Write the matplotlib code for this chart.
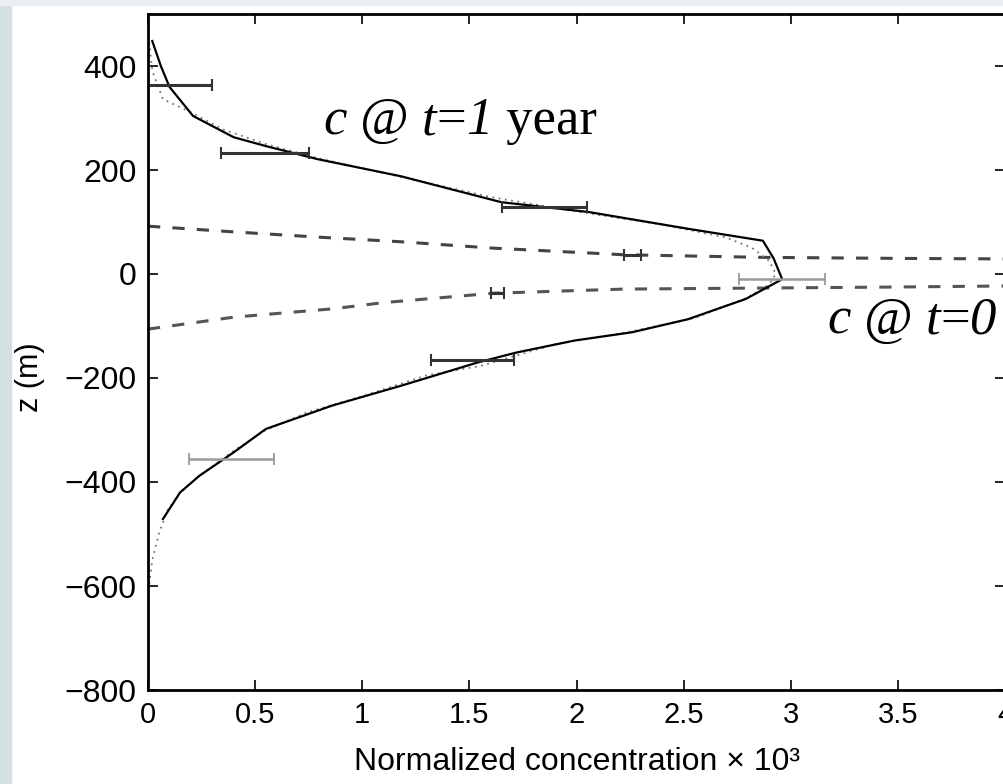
import numpy as np
import matplotlib.pyplot as plt
from matplotlib.patches import Rectangle
from matplotlib.ticker import MultipleLocator, FormatStrFormatter

plt.rcParams['font.family'] = ['Liberation Sans', 'DejaVu Sans']

# simulated profile at t = 1 year (solid)
c_sim = [0.02, 0.06, 0.10, 0.21, 0.40, 0.55, 0.79, 1.18, 1.65, 2.06, 2.52, 2.87,
         2.92, 2.96, 2.79, 2.52, 2.26, 1.99, 1.72, 1.54, 1.18, 0.86, 0.55, 0.40,
         0.24, 0.15, 0.07]
z_sim = [448, 400, 360, 304, 263, 246, 221, 188, 138, 119, 87, 64,
         30, -10, -48, -87, -112, -128, -151, -170, -215, -253, -298, -343,
         -388, -420, -471]

# analytical profile (dotted)
c_ana = [0.0, 0.01, 0.02, 0.07, 0.20, 0.35, 0.55, 0.80, 1.20, 1.60, 2.00, 2.40,
         2.70, 2.82, 2.90, 2.93, 2.90, 2.80, 2.55, 2.20, 1.90, 1.55, 1.30, 1.00,
         0.75, 0.55, 0.40, 0.25, 0.15, 0.09, 0.05, 0.02, 0.005, 0.0]
z_ana = [470, 430, 390, 336, 311, 278, 250, 222, 185, 148, 120, 95,
         70, 50, 25, 0, -20, -45, -85, -115, -135, -177, -195, -235,
         -265, -300, -340, -385, -420, -455, -500, -550, -600, -640]

# dashed lines (c @ t=0 envelope)
c_up = [0.0, 0.40, 0.79, 1.18, 1.60, 2.22, 2.87, 3.50, 4.0]
z_up = [92, 81, 71, 62, 50, 37, 32, 30, 29]
c_lo = [0.0, 0.40, 0.86, 1.10, 1.61, 2.22, 2.87, 3.50, 4.0]
z_lo = [-106, -83, -67, -55, -37, -29, -27, -25, -23]

# horizontal error bars: centre, half width, depth
eb_dark_c = [0.15, 0.545, 1.85, 2.26, 1.63, 1.515]
eb_dark_w = [0.15, 0.205, 0.20, 0.04, 0.03, 0.195]
eb_dark_z = [363, 232, 129, 37, -37, -165]
eb_light_c = [2.96, 0.39]
eb_light_w = [0.20, 0.20]
eb_light_z = [-10, -356]

label_t1 = [('c', 'italic'), (' @ ', 'normal'), ('t', 'italic'), ('=', 'normal'),
            ('1', 'italic'), (' year', 'normal')]
label_t0 = [('c', 'italic'), (' @ ', 'normal'), ('t', 'italic'), ('=', 'normal'),
            ('0', 'italic')]

fig = plt.figure(figsize=(10.04, 7.84), dpi=100)
fig.patch.set_facecolor('white')
fig.patches.append(Rectangle((0, 0), 11/1004, 1, transform=fig.transFigure,
                             color='#d5e0e5', zorder=-5))
fig.patches.append(Rectangle((0, 1 - 5/784), 1, 5/784, transform=fig.transFigure,
                             color='#ebeff2', zorder=-5))

ax = fig.add_axes([148/1004, 1 - 690/784, (1005 - 148)/1004, (690 - 14)/784])

ax.plot(c_up, z_up, color='#444444', lw=2.2, ls=(0, (4, 4)))
ax.plot(c_lo, z_lo, color='#555555', lw=2.2, ls=(0, (4, 4)))
ax.plot(c_ana, z_ana, color='#777777', lw=1.3, ls=(0, (1, 2.5)))
ax.plot(c_sim, z_sim, color='black', lw=1.6)

ax.errorbar(eb_dark_c, eb_dark_z, xerr=eb_dark_w, fmt='none', ecolor='#333333',
            elinewidth=2.2, capsize=4, capthick=1.5)
ax.errorbar(eb_light_c, eb_light_z, xerr=eb_light_w, fmt='none', ecolor='#9a9a9a',
            elinewidth=1.8, capsize=4, capthick=1.3)


def serif_label(x, y, parts, size=38):
    # chain pieces so that italic and upright letters share one baseline
    prev = ax.text(x, y, parts[0][0], family='Liberation Serif', style=parts[0][1],
                   fontsize=size, va='bottom', clip_on=False)
    for s, st in parts[1:]:
        prev = ax.annotate(s, xy=(1, 0), xycoords=prev, family='Liberation Serif',
                           style=st, fontsize=size, va='bottom', ha='left',
                           annotation_clip=False)


serif_label(0.82, 248, label_t1)
serif_label(3.17, -136, label_t0)

ax.set_xlim(0, 4)
ax.set_ylim(-800, 500)
ax.xaxis.set_major_locator(MultipleLocator(0.5))
ax.xaxis.set_major_formatter(FormatStrFormatter('%g'))
ax.set_yticks(range(-800, 401, 200))
ax.tick_params(direction='in', length=7, width=1.2, top=True, right=True, pad=8)
ax.tick_params(axis='x', labelsize=21)
ax.tick_params(axis='y', labelsize=23)
for s in ax.spines.values():
    s.set_linewidth(2)

ax.set_xlabel('Normalized concentration × 10³', fontsize=23, labelpad=13)
ax.set_ylabel('z (m)', fontsize=22)
ax.yaxis.set_label_coords(-0.12, 0.463)

fig.savefig('out.png', dpi=100)
